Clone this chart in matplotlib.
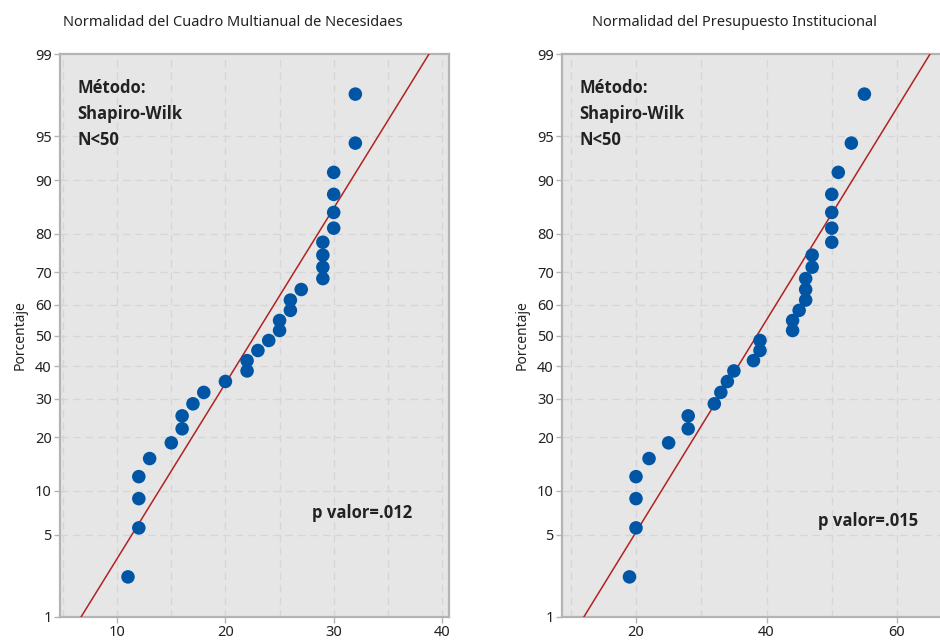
import matplotlib
matplotlib.use("Agg")
import matplotlib.pyplot as plt
import numpy as np
from statistics import NormalDist

plt.rcParams['font.family'] = ['Noto Sans', 'DejaVu Sans']

# valores
cuadro = [11, 12, 12, 12, 13, 15, 16, 16, 17, 18, 20, 22, 22, 23, 24,
          25, 25, 26, 26, 27, 29, 29, 29, 29, 30, 30, 30, 30, 32, 32]
presupuesto = [19, 20, 20, 20, 22, 25, 28, 28, 32, 33, 34, 35, 38, 39, 39,
               44, 44, 45, 46, 46, 46, 47, 47, 50, 50, 50, 50, 51, 53, 55]
titulos = ["Normalidad del Cuadro Multianual de Necesidaes",
           "Normalidad del Presupuesto Institucional"]
p_valores = ["p valor=.012", "p valor=.015"]
pct_ticks = [1, 5, 10, 20, 30, 40, 50, 60, 70, 80, 90, 95, 99]

nd = NormalDist()
z = lambda p: nd.inv_cdf(p)

W, H = 940, 641
fig = plt.figure(figsize=(W / 100, H / 100), dpi=100)

def px_axes(x0, y0, x1, y1):
    return fig.add_axes([x0 / W, 1 - y1 / H, (x1 - x0) / W, (y1 - y0) / H])

axes = [px_axes(60, 54, 449, 617), px_axes(562, 54, 944, 617)]
xlims = [(4.72, 40.65), (8.66, 67.2)]
xticks = [[10, 20, 30, 40], [20, 40, 60]]
xgrid = [np.arange(5, 41, 5), np.arange(10, 61, 10)]
ptxt = [(0.776, 0.185), (0.801, 0.171)]
bold = dict(family=['Open Sans', 'DejaVu Sans'], fontweight='bold',
            fontsize=12, color='#222222')

for k, (ax, datos) in enumerate(zip(axes, [cuadro, presupuesto])):
    x = np.sort(np.array(datos, dtype=float))
    n = len(x)
    pos = (np.arange(1, n + 1) - 0.3) / (n + 0.4)
    zs = np.array([z(p) for p in pos])
    mu, sd = x.mean(), x.std(ddof=1)

    ax.set_facecolor('#e6e6e6')
    ylo, yhi = z(0.01), z(0.99)
    # linea ajustada
    zl = np.array([ylo, yhi])
    ax.plot(mu + sd * zl, zl, color='#b22222', lw=1.1, zorder=3)
    ax.scatter(x, zs, s=95, color='#0055a5', edgecolors='none', zorder=4)

    ax.set_xlim(*xlims[k])
    ax.set_ylim(ylo, yhi)
    ax.set_yticks([z(p / 100) for p in pct_ticks])
    ax.set_yticklabels([str(p) for p in pct_ticks])
    ax.set_xticks(xticks[k])
    for g in xgrid[k]:
        ax.axvline(g, color='#d6d6d6', lw=0.9, ls=(0, (6, 4)), zorder=1)
    for p in pct_ticks[1:-1]:
        ax.axhline(z(p / 100), color='#d6d6d6', lw=0.9, ls=(0, (6, 4)), zorder=1)

    for s in ax.spines.values():
        s.set_color('#b4b4b4')
        s.set_linewidth(1.6)
    ax.tick_params(colors='#b4b4b4', labelcolor='#222222', labelsize=10.5,
                   length=4, width=1, pad=2)
    ax.set_ylabel("Porcentaje", fontsize=10, color='#222222', labelpad=5)

    ax.text(0.045, 0.955, "Método:\nShapiro-Wilk\nN<50", transform=ax.transAxes,
            ha='left', va='top', linespacing=1.55, **bold)
    ax.text(ptxt[k][0], ptxt[k][1], p_valores[k], transform=ax.transAxes,
            ha='center', va='center', **bold)

fig.text(233 / W, 1 - 23 / H, titulos[0], ha='center', va='center',
         fontsize=10.5, color='#222222')
fig.text(735 / W, 1 - 23 / H, titulos[1], ha='center', va='center',
         fontsize=10.5, color='#222222')

fig.savefig("out.png", dpi=100)
